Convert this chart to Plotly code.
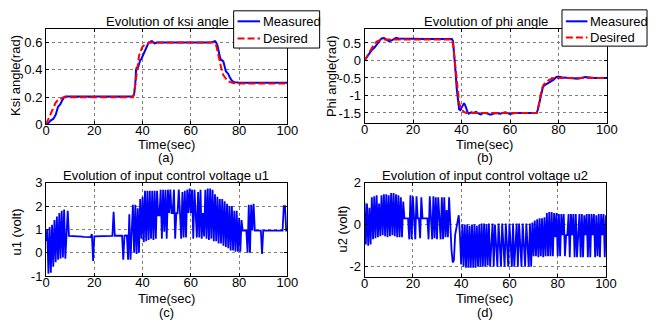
import plotly.graph_objects as go

W, H = 659, 330

# ---------------- data ----------------
time_ticks = [0, 20, 40, 60, 80, 100]

ksi_meas_t = [0, 1, 2, 3, 4, 4.5, 5, 5.5, 6, 6.5, 7, 7.5, 8, 9, 10, 15, 20, 25, 30, 35,
              36, 36.5, 37, 37.3, 37.6, 38, 38.5, 39, 39.5, 40, 40.5, 41, 41.5, 42, 42.5, 43, 43.5, 44, 45, 46,
              48, 50, 52, 55, 58, 60, 62, 65, 68, 70, 70.5, 71, 71.5, 72, 72.5, 73, 73.5, 74, 74.5, 75,
              75.5, 76, 77, 78, 79, 80, 85, 90, 95, 100]
ksi_meas = [0, 0.01, 0.03, 0.04, 0.07, 0.1, 0.13, 0.14, 0.15, 0.17, 0.19, 0.2, 0.205, 0.205, 0.2, 0.2, 0.2, 0.2, 0.2, 0.2,
            0.205, 0.22, 0.3, 0.4, 0.42, 0.41, 0.44, 0.47, 0.48, 0.5, 0.51, 0.53, 0.56, 0.58, 0.6, 0.6, 0.61, 0.61, 0.595, 0.6,
            0.6, 0.598, 0.6, 0.6, 0.598, 0.6, 0.6, 0.6, 0.6, 0.61, 0.6, 0.58, 0.53, 0.5, 0.47, 0.47, 0.46, 0.42, 0.39, 0.38,
            0.37, 0.35, 0.32, 0.31, 0.305, 0.305, 0.305, 0.305, 0.305, 0.305]

ksi_des_t = [0, 1, 2, 3, 4, 5, 6, 7, 8, 10, 20, 30, 36, 36.5, 37, 37.5, 38, 38.5, 39, 39.5,
             40, 41, 42, 43, 44, 50, 60, 70, 70.5, 71, 71.5, 72, 72.5, 73, 73.5, 74, 75, 76, 77, 78,
             80, 90, 100]
ksi_des = [0, 0.04, 0.09, 0.13, 0.16, 0.18, 0.19, 0.197, 0.2, 0.2, 0.2, 0.2, 0.2, 0.23, 0.3, 0.38, 0.45, 0.5, 0.53, 0.555,
           0.57, 0.585, 0.595, 0.6, 0.6, 0.6, 0.6, 0.6, 0.58, 0.54, 0.5, 0.45, 0.41, 0.38, 0.36, 0.345, 0.325, 0.312, 0.305, 0.302,
           0.3, 0.3, 0.3]

phi_meas_t = [0, 1, 2, 3, 4, 5, 6, 7, 8, 9, 10, 11, 12, 13, 14, 16, 20, 25, 30, 35,
              36, 36.5, 37, 37.5, 38, 38.5, 39, 39.5, 40, 40.5, 41, 41.5, 42, 42.5, 43, 43.5, 44, 45, 46, 47,
              48, 49, 50, 52, 54, 56, 58, 60, 62, 65, 68, 71, 71.5, 72, 72.5, 73, 73.5, 74, 75, 76,
              77, 78, 79, 80, 82, 85, 88, 91, 95, 100]
phi_meas = [0, 0.1, 0.22, 0.3, 0.36, 0.45, 0.55, 0.63, 0.64, 0.6, 0.55, 0.57, 0.62, 0.65, 0.63, 0.62, 0.62, 0.61, 0.61, 0.61,
            0.61, 0.55, 0.2, -0.3, -0.8, -1.2, -1.4, -1.42, -1.35, -1.25, -1.22, -1.28, -1.4, -1.48, -1.52, -1.5, -1.48, -1.5, -1.47, -1.52,
            -1.54, -1.5, -1.5, -1.55, -1.5, -1.52, -1.48, -1.53, -1.5, -1.5, -1.5, -1.5, -1.4, -1.25, -1.05, -0.9, -0.78, -0.72, -0.68, -0.65,
            -0.6, -0.55, -0.48, -0.46, -0.49, -0.5, -0.52, -0.47, -0.5, -0.5]

phi_des_t = [0, 1, 2, 3, 4, 5, 6, 7, 8, 10, 20, 30, 36, 36.5, 37, 37.5, 38, 38.5, 39, 39.5,
             40, 41, 42, 43, 50, 60, 70, 71, 71.5, 72, 72.5, 73, 73.5, 74, 75, 76, 77, 78, 80, 90, 100]
phi_des = [0, 0.12, 0.25, 0.37, 0.47, 0.54, 0.58, 0.6, 0.6, 0.6, 0.6, 0.6, 0.6, 0.45, 0.1, -0.3, -0.7, -1.0, -1.2, -1.32,
           -1.4, -1.47, -1.5, -1.5, -1.5, -1.5, -1.5, -1.5, -1.4, -1.2, -1.0, -0.85, -0.75, -0.68, -0.6, -0.56, -0.53, -0.51, -0.5, -0.5, -0.5]

u_step = 0.5  # sampling step of the control signals (sec)
u1 = [0.5, 1.0, -0.9, 1.1, -0.85, 1.2, -0.6, 1.4, -0.4, 1.55,
      -0.3, 1.7, -0.25, 1.8, -0.2, 1.85, -0.25, 0.7, 1.8, 0.72,
      0.72, 0.72, 0.71, 0.71, 0.71, 0.70, 0.70, 0.70, 0.69, 0.69,
      0.69, 0.68, 0.68, 0.68, 0.68, 0.67, 0.67, 0.67, 0.8, -0.35,
      0.7, 0.7, 0.7, 0.7, 0.71, 0.71, 0.71, 0.71, 0.71, 0.72,
      0.72, 0.72, 0.72, 0.72, 0.72, 0.72, 1.75, 0.73, 0.73, 0.73,
      0.73, 0.73, 0.73, 0.73, -0.3, 0.73, 0.74, 0.74, -0.3, 1.65,
      -0.3, 0.75, 2.05, 0.0, 2.05, -0.05, 1.9, 0.0, 2.3, 0.6,
      2.4, 0.45, 2.65, 0.5, 2.65, 0.55, 2.65, 0.6, 2.65, 0.55,
      2.65, 0.6, 2.65, 1.6, 1.6, 2.7, 0.6, 2.7, 0.9, 2.7,
      0.6, 2.7, 1.7, 2.7, 1.7, 1.7, 2.7, 0.6, 1.7, 1.7,
      2.7, 1.7, 0.6, 2.6, 0.65, 2.65, 0.65, 2.7, 1.7, 2.75,
      1.7, 2.7, 0.6, 2.7, 1.6, 0.65, 2.6, 0.65, 2.7, 0.6,
      1.7, 0.7, 2.7, 0.6, 2.75, 0.55, 2.75, 0.6, 2.7, 0.5,
      2.5, 0.5, 2.4, 0.4, 2.3, 0.4, 2.3, 0.3, 2.2, 0.25,
      2.1, 0.2, 2.0, 0.1, 2.0, 0.1, 1.8, 0.05, 1.8, 0.05,
      1.5, 0.05, 1.4, 0.95, 0.95, 0.95, 0.95, 0.0, 2.05, 0.0,
      2.05, 0.95, 2.1, 0.95, 0.95, 0.95, 0.95, 0.95, 0.95, -0.05,
      0.95, 0.95, 0.95, 0.95, 0.95, 0.95, 0.95, 0.95, 0.95, 0.95,
      0.95, 0.95, 0.95, 0.95, 0.95, 0.95, 0.95, 2.0, 2.0, 0.95,
      0.95]

u2 = [1.05, -0.95, 1.0, -1.0, 0.8, -0.95, 1.3, -0.7, 1.35, -0.65,
      1.4, -0.6, 1.0, -0.55, 1.4, -0.5, 1.45, -0.55, 1.45, -0.6,
      1.4, -0.55, 1.5, -0.5, 1.5, -0.55, 1.45, -0.6, 1.4, -0.6,
      1.3, -0.6, 1.1, 0.3, 0.3, 0.3, 0.3, -0.7, 1.4, -0.7,
      1.35, 0.3, -0.7, 1.35, 0.3, 0.3, -0.65, 1.3, 0.3, 0.3,
      0.3, 0.3, 0.3, -0.7, 1.35, 0.3, -0.7, 1.35, -0.65, 1.3,
      -0.7, 1.3, 0.3, -0.7, 1.3, -0.7, 1.3, -0.6, 0.7, -0.6,
      1.3, -0.4, -1.2, -1.8, -1.7, -0.5, -0.2, 0.2, 0.45, -0.5,
      -1.9, 0.0, -2.0, 0.0, -2.05, 0.0, -2.05, -0.05, -2.05, 0.0,
      -2.05, 0.0, -2.05, -0.05, -2.0, 0.0, -2.0, 0.05, -2.0, 0.05,
      -2.0, 0.0, -1.95, 0.05, -2.0, -1.0, 0.05, -2.0, 0.0, -1.0,
      -2.0, 0.05, -1.0, -2.0, 0.05, -1.0, -2.0, 0.05, -1.0, -2.0,
      0.05, -1.0, -2.0, 0.05, -2.0, -1.0, 0.05, -2.0, 0.05, -1.0,
      -2.0, 0.05, -1.0, -2.0, 0.05, -1.0, -2.0, 0.05, -2.0, 0.1,
      -1.5, 0.2, -1.5, 0.25, -1.55, 0.3, -1.5, 0.3, -1.55, 0.35,
      -1.5, 0.55, -1.5, 0.6, -1.5, 0.6, -1.5, 0.55, -0.6, 0.55,
      -1.5, 0.5, -1.5, 0.5, -0.5, 0.5, -1.5, -0.5, -0.5, 0.5,
      -1.55, 0.5, -0.5, 0.5, -1.55, 0.5, -1.55, -0.5, 0.5, -1.55,
      0.5, -1.55, 0.45, -0.5, 0.5, -1.55, 0.5, -1.55, 0.5, -0.5,
      0.5, -1.55, 0.45, -1.5, 0.5, -1.55, 0.5, -0.5, 0.5, -1.55,
      0.45]

u1_t = [i * u_step for i in range(len(u1))]
u2_t = [i * u_step for i in range(len(u2))]

ksi_ticks = [0, 0.2, 0.4, 0.6]
ksi_ticktext = ["0", "0.2", "0.4", "0.6"]
phi_ticks = [-1.5, -1, -0.5, 0, 0.5]
phi_ticktext = ["-1.5", "-1", "-0.5", "0", "0.5"]
u1_ticks = [-1, 0, 1, 2, 3]
u1_ticktext = ["-1", "0", "1", "2", "3"]
u2_ticks = [-2, 0, 2]
u2_ticktext = ["-2", "0", "2"]

# ---------------- styling ----------------
FONT = "Liberation Sans, Arial, sans-serif"
BLUE = "rgb(0,0,255)"
RED = "rgb(255,0,0)"


def px(x):
    return x / W


def py(y):
    return 1 - y / H


fig = go.Figure()
fig.add_trace(go.Scatter(x=ksi_meas_t, y=ksi_meas, mode="lines", line=dict(color=BLUE, width=2),
                         xaxis="x", yaxis="y", showlegend=False))
fig.add_trace(go.Scatter(x=ksi_des_t, y=ksi_des, mode="lines", line=dict(color=RED, width=2, dash="7px,3px"),
                         xaxis="x", yaxis="y", showlegend=False))
fig.add_trace(go.Scatter(x=phi_meas_t, y=phi_meas, mode="lines", line=dict(color=BLUE, width=2),
                         xaxis="x2", yaxis="y2", showlegend=False))
fig.add_trace(go.Scatter(x=phi_des_t, y=phi_des, mode="lines", line=dict(color=RED, width=2, dash="7px,3px"),
                         xaxis="x2", yaxis="y2", showlegend=False))
fig.add_trace(go.Scatter(x=u1_t, y=u1, mode="lines", line=dict(color=BLUE, width=1.8),
                         xaxis="x3", yaxis="y3", showlegend=False))
fig.add_trace(go.Scatter(x=u2_t, y=u2, mode="lines", line=dict(color=BLUE, width=1.8),
                         xaxis="x4", yaxis="y4", showlegend=False))


def axstyle(**kw):
    d = dict(showline=True, linecolor="black", linewidth=1, mirror="ticks",
             ticks="inside", ticklen=3, tickcolor="black", tickwidth=1,
             showgrid=True, gridcolor="#7f7f7f", griddash="dot", gridwidth=1,
             zeroline=False, tickfont=dict(size=13, color="black", family=FONT))
    d.update(kw)
    return d


def xax(domain, anchor):
    return axstyle(domain=domain, anchor=anchor, range=[0, 100], tickvals=time_ticks,
                   ticktext=[str(v) for v in time_ticks], ticklabelstandoff=-6)


layout = dict(
    width=W, height=H, margin=dict(l=0, r=0, t=0, b=0),
    paper_bgcolor="white", plot_bgcolor="white", showlegend=False,
    font=dict(family=FONT, size=13, color="black"),
    xaxis=xax([px(43), px(290)], "y"),
    yaxis=axstyle(domain=[py(123), py(23)], anchor="x", range=[0, 0.7],
                  tickvals=ksi_ticks, ticktext=ksi_ticktext),
    xaxis2=xax([px(369), px(617)], "y2"),
    yaxis2=axstyle(domain=[py(122), py(23)], anchor="x2", range=[-1.8, 0.9],
                   tickvals=phi_ticks, ticktext=phi_ticktext),
    xaxis3=xax([px(43), px(290)], "y3"),
    yaxis3=axstyle(domain=[py(282), py(184)], anchor="x3", range=[-1, 3],
                   tickvals=u1_ticks, ticktext=u1_ticktext),
    xaxis4=xax([px(369), px(616)], "y4"),
    yaxis4=axstyle(domain=[py(283), py(184)], anchor="x4", range=[-2.5, 2],
                   tickvals=u2_ticks, ticktext=u2_ticktext),
)
fig.update_layout(**layout)

annotations = []


def text(x, y, s, angle=0, xanchor="center"):
    annotations.append(dict(x=px(x), y=py(y), xref="paper", yref="paper", text=s,
                            showarrow=False, xanchor=xanchor, yanchor="middle", textangle=angle,
                            font=dict(size=13, color="black", family=FONT)))


# titles
text(167, 15, "Evolution of ksi angle")
text(493, 15, "Evolution of phi angle")
text(166, 176, "Evolution of input control voltage u1")
text(492.5, 176, "Evolution of input control voltage u2")
# x labels and panel letters
for cx, ty, ly, letter in [(166, 144.5, 157.5, "(a)"), (492, 144.5, 157.5, "(b)"),
                           (166, 305, 320, "(c)"), (492, 305, 320, "(d)")]:
    text(cx, ty, "Time(sec)")
    text(cx, ly, letter)
# y labels
text(12.5, 72, "Ksi angle(rad)", angle=-90)
text(335, 72, "Phi angle(rad)", angle=-90)
text(12.5, 236, "u1 (volt)", angle=-90)
text(346, 233, "u2 (volt)", angle=-90)

shapes = []
# legends (drawn as boxes with line samples)
for (bx0, by0, bx1, by1, lx0, lx1, tx, r1, r2) in [
        (235, 4, 323, 43, 239, 262, 263, 15, 33),
        (571, 3, 658, 41, 575, 597, 598, 15, 32)]:
    shapes.append(dict(type="rect", xref="paper", yref="paper", x0=px(bx0), x1=px(bx1),
                       y0=py(by1), y1=py(by0), fillcolor="white",
                       line=dict(color="black", width=1), layer="above"))
    shapes.append(dict(type="line", xref="paper", yref="paper", x0=px(lx0), x1=px(lx1),
                       y0=py(r1), y1=py(r1), line=dict(color=BLUE, width=2), layer="above"))
    shapes.append(dict(type="line", xref="paper", yref="paper", x0=px(lx0), x1=px(lx1),
                       y0=py(r2), y1=py(r2), line=dict(color=RED, width=2, dash="7px,3px"), layer="above"))
    text(tx, r1, "Measured", xanchor="left")
    text(tx, r2, "Desired", xanchor="left")

fig.update_layout(annotations=annotations, shapes=shapes)

fig.write_html("out.html", config={"displayModeBar": False})
